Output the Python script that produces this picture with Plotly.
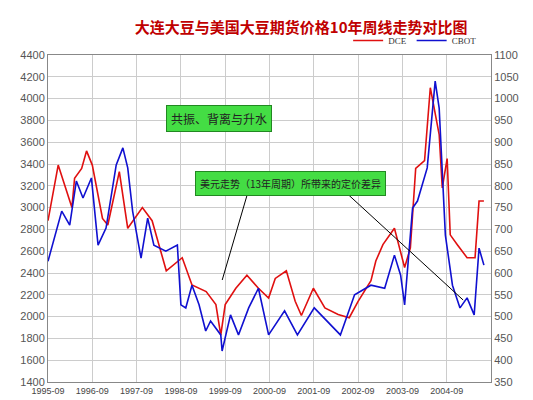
import plotly.graph_objects as go

tick_labels = ["1995-09","1996-09","1997-09","1998-09","1999-09","2000-09","2001-09","2002-09","2003-09","2004-09"]

dce_x = [0,0.23,0.54,0.6,0.76,0.87,1.0,1.23,1.35,1.61,1.8,2.13,2.35,2.67,3.03,3.25,3.57,3.79,3.9,4.0,4.24,4.49,4.75,4.98,
         5.13,5.38,5.58,5.72,5.99,6.25,6.55,6.8,7.0,7.29,7.4,7.56,7.82,8.05,8.18,8.3,8.5,8.63,8.83,8.9,9.01,9.08,9.24,9.46,9.64,9.73,9.84]
dce_y = [2880,3390,3000,3270,3360,3520,3390,2900,2840,3330,2810,3000,2880,2420,2540,2290,2230,2110,1830,2110,2260,2380,2260,2170,
         2350,2420,2140,2010,2260,2080,2020,1990,2140,2330,2510,2660,2810,2450,2630,3360,3430,4100,3670,3180,3450,2750,2660,2540,2540,3060,3060]

cbot_x = [0,0.12,0.31,0.49,0.64,0.79,0.98,1.13,1.31,1.54,1.69,1.8,1.91,2.1,2.25,2.39,2.66,2.92,3.0,3.11,3.25,3.41,3.56,3.67,3.9,3.93,4.12,4.3,4.53,4.75,4.98,
          5.34,5.63,6.01,6.6,6.92,7.29,7.6,7.82,7.96,8.05,8.23,8.34,8.56,8.74,8.83,8.9,8.97,9.13,9.3,9.46,9.62,9.73,9.84]
cbot_y = [627,673,742,710,811,772,818,664,703,848,887,841,742,634,726,664,650,664,527,520,572,527,467,490,458,421,504,458,520,565,458,
          513,458,520,458,550,572,565,641,595,527,749,765,841,1040,978,841,687,572,520,543,504,657,618]

fig = go.Figure()
fig.add_trace(go.Scatter(x=dce_x, y=dce_y, name="DCE", mode="lines", line=dict(color="#e01010", width=1.6)))
fig.add_trace(go.Scatter(x=cbot_x, y=cbot_y, name="CBOT", mode="lines", line=dict(color="#1010d0", width=1.6), yaxis="y2"))

ax_font = dict(family="Liberation Sans, Arial", size=11, color="#555")
fig.update_layout(
    width=533, height=400, paper_bgcolor="white", plot_bgcolor="white",
    margin=dict(l=38, r=50, t=47, b=26),
    title=dict(text="<b>大连大豆与美国大豆期货价格10年周线走势对比图</b>", x=0.55, y=0.965, xanchor="center",
               font=dict(family="Noto Sans CJK SC", size=15, color="#c00000")),
    showlegend=True,
    legend=dict(orientation="h", x=0.98, xanchor="right", y=1.0, yanchor="bottom",
                font=dict(family="Liberation Serif", size=9, color="#333"), bgcolor="rgba(0,0,0,0)"),
    xaxis=dict(range=[0,10], tickmode="array", tickvals=list(range(10)), ticktext=tick_labels,
               showgrid=True, gridcolor="#ccc", tickfont=dict(family="Liberation Sans", size=9, color="#444"),
               showline=True, linecolor="#888", mirror=True, zeroline=False),
    yaxis=dict(range=[1400,4400], dtick=200, showgrid=True, gridcolor="#ccc", tickfont=ax_font,
               showline=True, linecolor="#888", zeroline=False),
    yaxis2=dict(range=[350,1100], dtick=50, overlaying="y", side="right", showgrid=False, tickfont=ax_font,
                showline=True, linecolor="#888", zeroline=False),
    shapes=[
        dict(type="line", xref="paper", yref="paper", x0=(238-38)/445, y0=(374-187)/327, x1=(213-38)/445, y1=(374-272)/327, line=dict(color="black", width=1)),
        dict(type="line", xref="paper", yref="paper", x0=(340-38)/445, y0=(374-187)/327, x1=(455-38)/445, y1=(374-292)/327, line=dict(color="black", width=1)),
    ],
    annotations=[
        dict(text="共振、背离与升水", xref="paper", yref="paper", x=(210-38)/445, y=(374-97)/327, showarrow=False,
             bgcolor="#44dd44", bordercolor="#228822", borderwidth=1, borderpad=4,
             font=dict(family="Noto Sans CJK SC", size=12, color="#222")),
        dict(text="美元走势（13年周期）所带来的定价差异", xref="paper", yref="paper", x=(282-38)/445, y=(374-175)/327, showarrow=False,
             bgcolor="#44dd44", bordercolor="#228822", borderwidth=1, borderpad=4,
             font=dict(family="Noto Sans CJK SC", size=10, color="#222")),
    ],
)
fig.write_html("out.html")
